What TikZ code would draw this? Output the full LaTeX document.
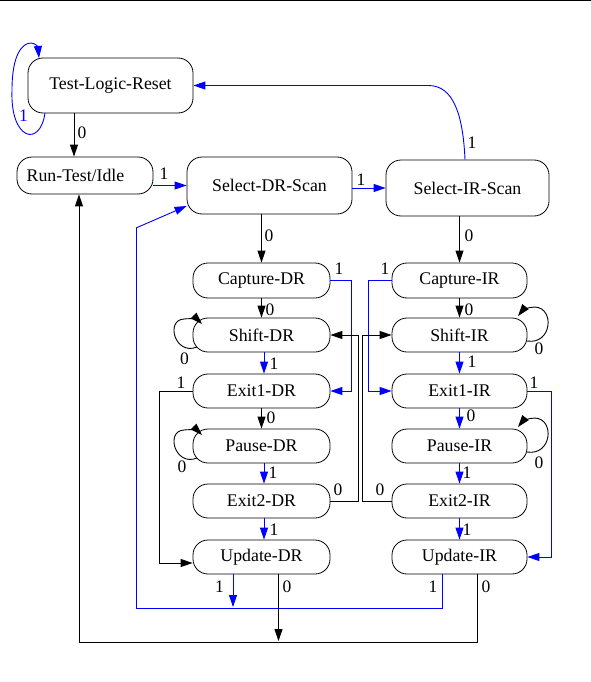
\documentclass[tikz,border=0pt]{standalone}
\usepackage{fontspec}
\setmainfont{Liberation Serif}
\usetikzlibrary{arrows.meta}
\begin{document}
\begin{tikzpicture}[x=1pt,y=-1pt,
  state/.style={draw, line width=0.8pt, rounded corners=15pt, inner sep=0pt,
    font=\fontsize{17.8}{20}\selectfont, minimum height=34pt, minimum width=137pt},
  big/.style={state, minimum width=165pt, minimum height=56pt},
  irstate/.style={state, minimum width=135pt},
  lbl/.style={font=\fontsize{17.5}{19}\selectfont, inner sep=0pt},
  conn/.style={line width=0.9pt, -{Triangle[length=12pt,width=8pt]}},
  bconn/.style={conn, blue}]
\useasboundingbox (0,0) rectangle (591,682);
\draw[line width=1.2pt] (0,0.6) -- (591,0.6);

% states
\node[big, minimum height=55pt] (tlr) at (110.5,85.5) {Test-Logic-Reset};
\node[state, minimum width=136pt, minimum height=37pt] (rti) at (85,175.5) {Run-Test/Idle\hspace*{19pt}};
\node[big, minimum height=57pt] (sdr) at (269.5,185.5) {Select-DR-Scan};
\node[big, minimum width=163pt] (sir) at (467.5,188) {Select-IR-Scan};
\node[state, minimum height=35pt] (cdr) at (261.5,280.5) {Capture-DR};
\node[state] (shdr) at (261.5,335) {Shift-DR};
\node[state] (e1dr) at (261.5,391) {Exit1-DR};
\node[state] (pdr) at (261.5,446) {Pause-DR};
\node[state] (e2dr) at (261.5,501) {Exit2-DR};
\node[state] (udr) at (261.5,557) {Update-DR};
\node[irstate, minimum height=35pt] (cir) at (459.5,280.5) {Capture-IR};
\node[irstate] (shir) at (459.5,335) {Shift-IR};
\node[irstate] (e1ir) at (459.5,391) {Exit1-IR};
\node[irstate] (pir) at (459.5,446) {Pause-IR};
\node[irstate] (e2ir) at (459.5,501) {Exit2-IR};
\node[irstate] (uir) at (459.5,557) {Update-IR};

% free ends / bends
\coordinate (bj) at (233,607);
\coordinate (bl) at (136,608);
\coordinate (tl) at (136,228);
\coordinate (kj) at (278.5,641);

% top part
\draw[bconn, shift={(tlr.center)}] (-65.5,27.5) .. controls (-70.5,62.5) and (-100.5,54.5) .. (-98.5,4.5)
  .. controls (-98.5,-30.5) and (-88.5,-42.5) .. (-79.5,-42.5)
  .. controls (-75.5,-42.5) and (-72.5,-38.5) .. (-71.5,-27.5);
\draw[conn] ([xshift=-36.5pt]tlr.south) -- ([xshift=-11pt]rti.north);
\draw[bconn] (rti.east |- sdr.west) -- (sdr.west);
\draw[bconn] (sdr.east |- sir.west) -- (sir.west);
\draw[bconn] ([xshift=-2.5pt]sir.north) .. controls +(-2,-45) and +(25,0) .. ([xshift=235pt]tlr.east) -- (tlr.east);
\draw[conn] (sdr.south -| cdr.north) -- (cdr.north);
\draw[conn] (sir.south -| cir.north) -- (cir.north);

% DR column
\draw[conn] (cdr) -- (shdr);
\draw[bconn] (cdr.east) -- ++(21,0) |- (e1dr.east);
\draw[bconn] ([xshift=2.5pt]shdr.south) -- ([xshift=2.5pt]e1dr.north);
\draw[conn] (e1dr.west) -- ++(-33,0) |- ([yshift=-6pt]udr.west);
\draw[conn] (e1dr) -- (pdr);
\draw[bconn] ([xshift=2.5pt]pdr.south) -- ([xshift=2.5pt]e2dr.north);
\draw[conn] (e2dr.east) -- ++(28,0) |- (shdr.east);
\draw[bconn] ([xshift=2.5pt]e2dr.south) -- ([xshift=2.5pt]udr.north);
\draw[conn, shift={(shdr.center)}] (-64.5,12) .. controls (-86.5,21) and (-96.5,-15) .. (-77.5,-16)
  .. controls (-69.5,-17) and (-63.5,-15) .. (-59.5,-11);
\draw[conn, shift={(pdr.center)}] (-64.5,12) .. controls (-86.5,21) and (-96.5,-15) .. (-77.5,-16)
  .. controls (-69.5,-17) and (-63.5,-15) .. (-59.5,-11);

% IR column
\draw[conn] (cir) -- (shir);
\draw[bconn] (cir.west) -- ++(-23,0) |- (e1ir.west);
\draw[bconn] (shir) -- (e1ir);
\draw[bconn] (e1ir.east) -- ++(24,0) |- (uir.east);
\draw[bconn] (e1ir) -- (pir);
\draw[bconn] (pir) -- (e2ir);
\draw[conn] (e2ir.west) -- ++(-29,0) |- (shir.west);
\draw[bconn] (e2ir) -- (uir);
\draw[conn, shift={(shir.center)}] (67.5,6) .. controls (92.5,10) and (95.5,-27) .. (75.5,-28)
  .. controls (68.5,-28) and (62.5,-24) .. (58.5,-19);
\draw[conn, shift={(pir.center)}] (67.5,6) .. controls (92.5,10) and (95.5,-27) .. (75.5,-28)
  .. controls (68.5,-28) and (62.5,-24) .. (58.5,-19);

% bottom
\draw[bconn] ([xshift=-28.5pt]udr.south) -- (bj);
\draw[bconn, -] ([xshift=-17.5pt]uir.south) |- (bl) -- (tl);
\draw[bconn] (tl) -- ([yshift=-20.5pt]sdr.west);
\draw[conn] ([xshift=17pt]udr.south) -- (kj);
\draw[conn] ([xshift=17.5pt]uir.south) -- ++(0,68) -| ([xshift=-6pt]rti.south);

% labels
\node[lbl, text=blue] (l01) at (23.5,116) {1};
\node[lbl] (l02) at (82,133) {0};
\node[lbl] (l03) at (164,174) {1};
\node[lbl] (l04) at (361,180) {1};
\node[lbl] (l05) at (472,143) {1};
\node[lbl] (l06) at (269,236) {0};
\node[lbl] (l07) at (469,236) {0};
\node[lbl] (l08) at (339,269) {1};
\node[lbl] (l09) at (270,310) {0};
\node[lbl] (l10) at (184.5,359) {0};
\node[lbl] (l11) at (274,364) {1};
\node[lbl] (l12) at (181,383) {1};
\node[lbl] (l13) at (271,418) {0};
\node[lbl] (l14) at (182,467) {0};
\node[lbl] (l15) at (273,473) {1};
\node[lbl] (l16) at (338,490) {0};
\node[lbl] (l17) at (274,530) {1};
\node[lbl] (l18) at (385,269) {1};
\node[lbl] (l19) at (469,310) {0};
\node[lbl] (l20) at (539,349) {0};
\node[lbl] (l21) at (472,362) {1};
\node[lbl] (l22) at (534,383) {1};
\node[lbl] (l23) at (471,416) {0};
\node[lbl] (l24) at (539,463) {0};
\node[lbl] (l25) at (467,473) {1};
\node[lbl] (l26) at (380,490) {0};
\node[lbl] (l27) at (467,530) {1};
\node[lbl] (l28) at (219.5,587) {1};
\node[lbl] (l29) at (287,587) {0};
\node[lbl] (l30) at (433,587) {1};
\node[lbl] (l31) at (486,587) {0};
\end{tikzpicture}
\end{document}
